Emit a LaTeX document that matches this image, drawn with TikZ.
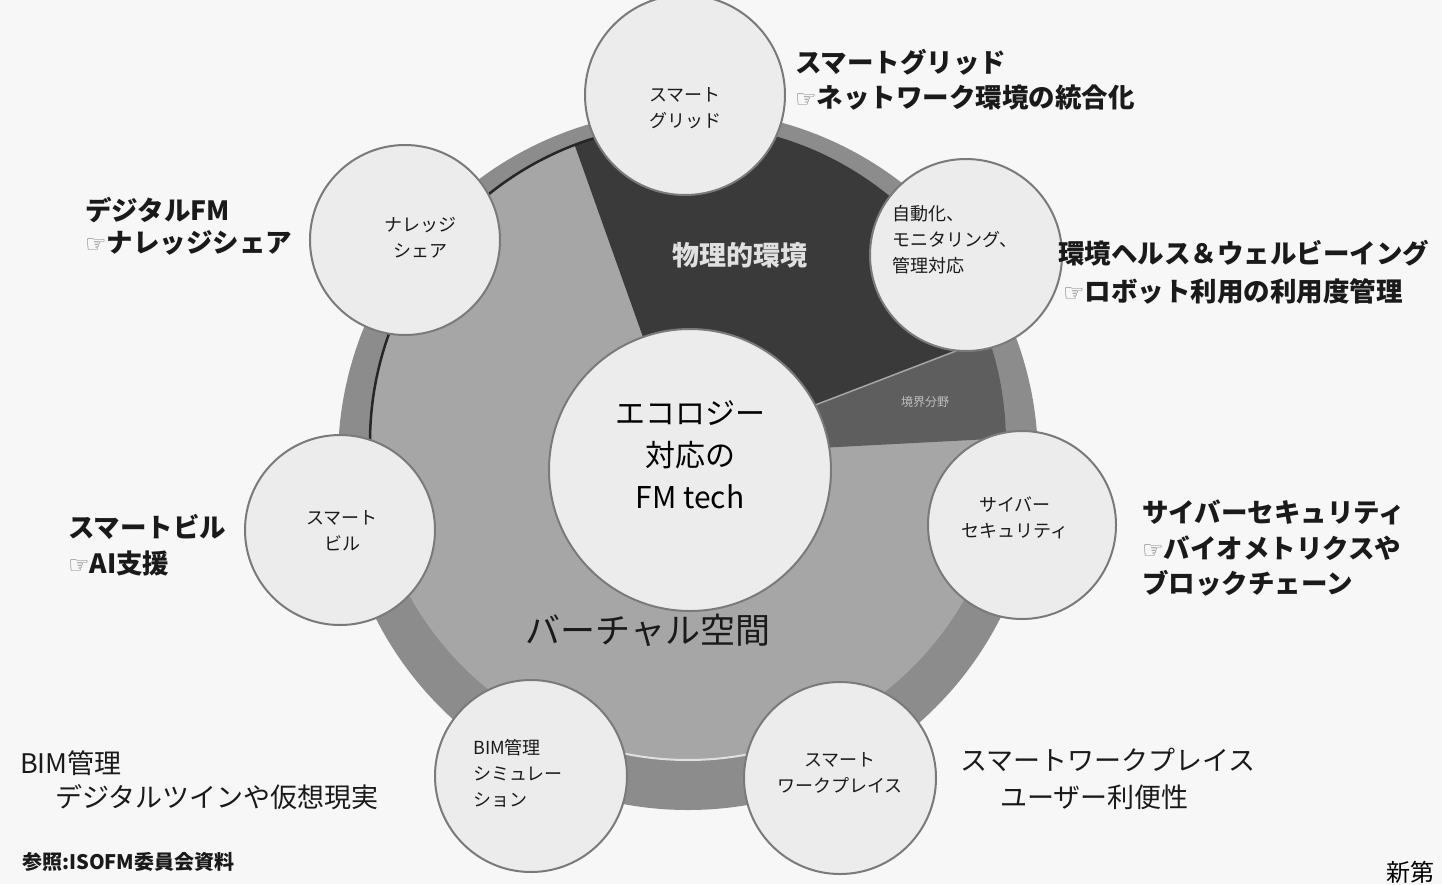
\documentclass[tikz,border=0pt]{standalone}
\usepackage{fontspec}
\setmainfont{Noto Sans CJK JP}
\newfontfamily\symfont{DejaVu Sans}
\definecolor{bgc}{HTML}{F7F7F7}
\definecolor{ringc}{HTML}{8C8C8C}
\definecolor{innerc}{HTML}{A6A6A6}
\definecolor{darkc}{HTML}{3A3A3A}
\definecolor{midc}{HTML}{5E5E5E}
\definecolor{circc}{HTML}{ECECEC}
\definecolor{circd}{HTML}{7A7A7A}
\definecolor{txtc}{HTML}{1A1A1A}
\newcommand{\hand}{{\symfont\color{black!55}\fontsize{24}{26}\selectfont\char"261E}}
\begin{document}
\begin{tikzpicture}[x=1pt,y=-1pt,
  sat/.style={circle,fill=circc,draw=circd,line width=2pt,inner sep=0pt},
  sattxt/.style={font=\fontsize{18}{26}\selectfont,text=txtc,align=center,inner sep=0pt},
  labb/.style={font=\bfseries\fontsize{26.5}{30}\selectfont,text=txtc,anchor=west,inner sep=0pt},
  labr/.style={font=\fontsize{27}{30}\selectfont,text=txtc,anchor=west,inner sep=0pt}]
\useasboundingbox (0,0) rectangle (1442,884);
\fill[bgc] (0,0) rectangle (1442,884);
% big disc
\fill[ringc] (688,460) circle[radius=350pt];
\fill[innerc] (688,442) circle[radius=318pt];
\coordinate (C) at (685,455);
\begin{scope}
  \clip (688,442) circle[radius=318pt];
  \fill[darkc] (C) -- +(109.6:520pt) -- +(65:600pt) -- +(21:520pt) -- cycle;
  \fill[midc] (C) -- +(21:520pt) -- +(3:520pt) -- cycle;
  \draw[black!35,line width=1.5pt] (C) -- +(21:520pt);
\end{scope}
\draw[black!85,line width=2.5pt] (688,442) ++(100:318pt) arc[start angle=100,end angle=196,radius=318pt];
\draw[black!12,line width=2pt] (688,442) ++(255:318pt) arc[start angle=255,end angle=285,radius=318pt];
\node[font=\bfseries\fontsize{27}{30}\selectfont,text=black!12] (phys) at (740,255) {物理的環境};
\node[font=\fontsize{12}{14}\selectfont,text=black!25] (kyokai) at (925,402) {境界分野};
\node[font=\fontsize{35}{40}\selectfont,text=txtc] (virt) at (648,630) {バーチャル空間};
% centre
\node[sat,minimum size=282pt] (center) at (690,470) {};
\node[font=\fontsize{30}{42}\selectfont,text=black,align=center] (ctxt) at (690,455) {エコロジー\\対応の\\FM tech};
% satellites
\node[sat,minimum size=200pt] (grid) at (685,95) {};
\node[sattxt] (gridt) at (685,108) {スマート\\グリッド};
\node[sat,minimum size=192pt] (auto) at (966,255) {};
\node[sattxt,align=left] (autot) at (955,240) {自動化、\\モニタリング、\\管理対応};
\node[sat,minimum size=190pt] (know) at (405,240) {};
\node[sattxt] (knowt) at (420,238) {ナレッジ\\シェア};
\node[sat,minimum size=190pt] (bill) at (340,530) {};
\node[sattxt] (billt) at (342,531) {スマート\\ビル};
\node[sat,minimum size=188pt] (cyber) at (1022,525) {};
\node[sattxt] (cybert) at (1015,518) {サイバー\\セキュリティ};
\node[sat,minimum size=192pt] (bim) at (531,776) {};
\node[sattxt,align=left] (bimt) at (518,773) {BIM管理\\シミュレー\\ション};
\node[sat,minimum size=192pt] (swp) at (840,778) {};
\node[sattxt] (swpt) at (840,773) {スマート\\ワークプレイス};
% outer labels
\node[labb] (l1) at (795,62) {スマートグリッド};
\node[labb] (l2) at (795,98) {\hand ネットワーク環境の統合化};
\node[labb] (l3) at (85,210) {デジタルFM};
\node[labb] (l4) at (85,243) {\hand ナレッジシェア};
\node[labb] (l5) at (1058,253) {環境ヘルス＆ウェルビーイング};
\node[labb] (l6) at (1063,291) {\hand ロボット利用の利用度管理};
\node[labb] (l7) at (68,527) {スマートビル};
\node[labb] (l8) at (68,563) {\hand AI支援};
\node[labb] (l9) at (1142,512) {サイバーセキュリティ};
\node[labb] (l10) at (1142,548) {\hand バイオメトリクスや};
\node[labb] (l11) at (1142,583) {ブロックチェーン};
\node[labr] (l12) at (20,763) {BIM管理};
\node[labr] (l13) at (55,797) {デジタルツインや仮想現実};
\node[labr] (l14) at (960,760) {スマートワークプレイス};
\node[labr] (l15) at (1000,797) {ユーザー利便性};
\node[font=\bfseries\fontsize{20}{22}\selectfont,text=txtc,anchor=west,inner sep=0pt] (ref) at (22,862) {参照:ISOFM委員会資料};
\node[font=\fontsize{24}{26}\selectfont,text=black,anchor=west,inner sep=0pt] (shin) at (1386,872) {新第};
\end{tikzpicture}
\end{document}
